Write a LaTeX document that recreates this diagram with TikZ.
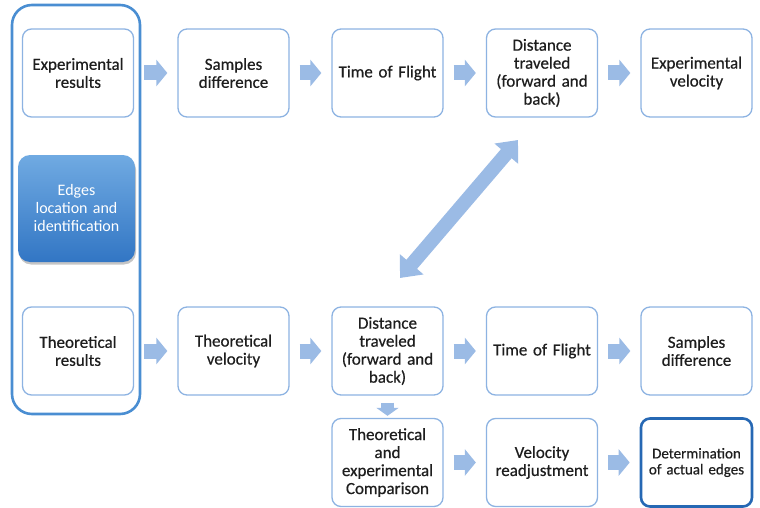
\documentclass[tikz,border=0pt]{standalone}
\usepackage{fontspec}
\setmainfont{Carlito}
\newfontfamily\heavy{Carlito}[FakeBold=0.5]
\usetikzlibrary{arrows.meta,shadows,calc}
\definecolor{boxline}{RGB}{141,179,226}
\definecolor{arrowfill}{RGB}{155,187,229}
\definecolor{outerline}{RGB}{74,142,210}
\definecolor{darkline}{RGB}{38,104,180}
\definecolor{edgetop}{RGB}{112,170,226}
\definecolor{edgebot}{RGB}{50,118,196}
\definecolor{txt}{RGB}{30,30,30}
\begin{document}
\begin{tikzpicture}[x=1pt,y=-1pt,
  box/.style={draw=boxline, line width=1.3pt, rounded corners=9pt, fill=white,
    minimum width=111pt, minimum height=88pt, text width=107pt, align=center,
    font=\heavy\fontsize{17}{18}\selectfont, text=txt, inner sep=0pt},
  finalbox/.style={box, draw=darkline, line width=2.6pt, font=\heavy\fontsize{15}{16}\selectfont},
  edgebox/.style={draw=none, rounded corners=12pt, top color=edgetop, bottom color=edgebot,
    minimum width=117pt, minimum height=107pt, text width=112pt, align=center,
    font=\fontsize{16}{18}\selectfont, text=white, inner sep=0pt,
    drop shadow={shadow xshift=1pt, shadow yshift=-2.5pt, fill=black!45, opacity=0.5}},
  outerbox/.style={draw=outerline, line width=2.6pt, rounded corners=20pt},
  flow/.style={draw=arrowfill, line width=15pt, line cap=butt,
    -{Triangle[width=26pt,length=11pt]}},
  downflow/.style={draw=arrowfill, line width=13pt, line cap=butt,
    -{Triangle[width=22pt,length=8pt]}},
  bothflow/.style={draw=arrowfill, line width=14pt, line cap=butt,
    {Triangle[width=30pt,length=18pt]}-{Triangle[width=30pt,length=18pt]}}
]
\useasboundingbox (0,0) rectangle (760,508);

\draw[outerbox] (12,5) rectangle (140,414);

% row 1
\node[box] (a1) at (78,73) {Experimental\\results};
\node[box] (a2) at (233.5,73) {Samples\\difference};
\node[box] (a3) at (387.5,73) {Time of Flight};
\node[box] (a4) at (542,73) {Distance\\traveled\\(forward and\\back)};
\node[box] (a5) at (696.5,73) {Experimental\\velocity};

% edges box
\node[edgebox] (e) at (76.5,208.5) {Edges\\location and\\identification};

% row 2
\node[box] (b1) at (78,351) {Theoretical\\results};
\node[box] (b2) at (233.5,351) {Theoretical\\velocity};
\node[box] (b3) at (387.5,351) {Distance\\traveled\\(forward and\\back)};
\node[box] (b4) at (542,351) {Time of Flight};
\node[box] (b5) at (696.5,351) {Samples\\difference};

% row 3
\node[box] (c3) at (387.5,462.5) {Theoretical\\and\\experimental\\Comparison};
\node[box] (c4) at (542,462.5) {Velocity\\readjustment};
\node[finalbox] (c5) at (696.5,462.5) {Determination\\of actual edges};

% arrows
\foreach \p/\q in {a1/a2,a2/a3,a3/a4,a4/a5,b1/b2,b2/b3,b3/b4,b4/b5,c3/c4,c4/c5}{
  \draw[flow, shorten <=10pt, shorten >=10pt] (\p) -- (\q);
}
\draw[downflow, shorten <=7pt, shorten >=2pt] (b3) -- (c3);

\coordinate (dtop) at (518,140);
\coordinate (dbot) at (400,278);
\draw[bothflow] (dbot) -- (dtop);
\end{tikzpicture}
\end{document}
